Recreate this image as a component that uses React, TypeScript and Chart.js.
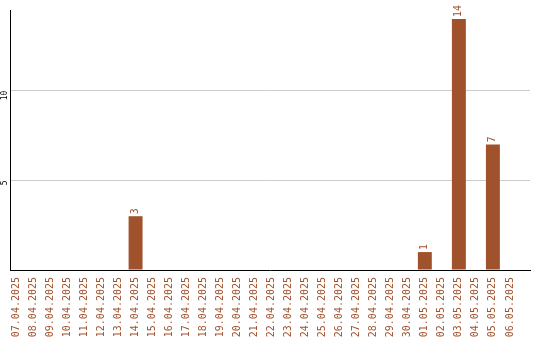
import React, { useEffect, useRef } from "react";
import { Chart, registerables } from "chart.js";

Chart.register(...registerables);

const dates = [
  "07.04.2025", "08.04.2025", "09.04.2025", "10.04.2025", "11.04.2025",
  "12.04.2025", "13.04.2025", "14.04.2025", "15.04.2025", "16.04.2025",
  "17.04.2025", "18.04.2025", "19.04.2025", "20.04.2025", "21.04.2025",
  "22.04.2025", "23.04.2025", "24.04.2025", "25.04.2025", "26.04.2025",
  "27.04.2025", "28.04.2025", "29.04.2025", "30.04.2025", "01.05.2025",
  "02.05.2025", "03.05.2025", "04.05.2025", "05.05.2025", "06.05.2025",
];

const counts = [
  0, 0, 0, 0, 0, 0, 0, 3, 0, 0,
  0, 0, 0, 0, 0, 0, 0, 0, 0, 0,
  0, 0, 0, 0, 1, 0, 14, 0, 7, 0,
];

const yTicks = [5, 10];

const BROWN = "#a0522d";
const MONO = "'DejaVu Sans Mono', monospace";

// Writes each non-zero count vertically just above its bar.
const barValueLabels = {
  id: "barValueLabels",
  afterDatasetsDraw(chart: any) {
    const { ctx } = chart;
    const meta = chart.getDatasetMeta(0);
    ctx.save();
    ctx.fillStyle = BROWN;
    ctx.font = `10px ${MONO}`;
    ctx.textAlign = "left";
    ctx.textBaseline = "middle";
    meta.data.forEach((bar: any, i: number) => {
      const v = counts[i];
      if (!v) return;
      ctx.save();
      ctx.translate(bar.x, bar.y - 2);
      ctx.rotate(-Math.PI / 2);
      ctx.fillText(String(v), 0, 0);
      ctx.restore();
    });
    ctx.restore();
  },
};

export default function App() {
  const ref = useRef<HTMLCanvasElement | null>(null);

  useEffect(() => {
    document.body.style.margin = "0";
    if (!ref.current) return;
    const chart = new Chart(ref.current, {
      type: "bar",
      data: {
        datasets: [
          {
            data: counts.map((y, x) => ({ x, y })),
            backgroundColor: BROWN,
            borderWidth: 0,
            barPercentage: 0.82,
            categoryPercentage: 1,
          },
        ],
      },
      options: {
        animation: false,
        responsive: false,
        layout: { padding: { top: 10, right: 10, left: 0, bottom: 0 } },
        plugins: {
          legend: { display: false },
          tooltip: { enabled: false },
        },
        scales: {
          x: {
            type: "linear",
            offset: false,
            min: -0.38,
            max: 30.18,
            afterBuildTicks(scale: any) {
              scale.ticks = dates.map((_, i) => ({ value: i }));
            },
            grid: { display: false, drawTicks: false },
            border: { color: "#000", width: 1 },
            ticks: {
              color: BROWN,
              font: { family: MONO, size: 10 },
              minRotation: 90,
              maxRotation: 90,
              autoSkip: false,
              padding: 7,
              callback: (v: any) => dates[v] ?? "",
            },
            afterFit(scale: any) {
              scale.height = 70;
            },
          },
          y: {
            min: 0,
            max: 14.5,
            afterBuildTicks(scale: any) {
              scale.ticks = [0, ...yTicks].map((v) => ({ value: v }));
            },
            grid: {
              color: (c: any) => (c.tick && c.tick.value === 0 ? "rgba(0,0,0,0)" : "#cccccc"),
              drawTicks: false,
            },
            border: { color: "#000", width: 1 },
            ticks: {
              color: "#000",
              font: { family: MONO, size: 8 },
              minRotation: 90,
              maxRotation: 90,
              padding: 5,
              callback: (v: any) => (v === 0 ? "" : String(v)),
            },
            afterFit(scale: any) {
              scale.width = 10;
            },
          },
        },
      },
      plugins: [barValueLabels],
    });
    return () => chart.destroy();
  }, []);

  return (
    <div style={{ width: 540, height: 340 }}>
      <canvas ref={ref} width={540} height={340} style={{ display: "block" }} />
    </div>
  );
}
